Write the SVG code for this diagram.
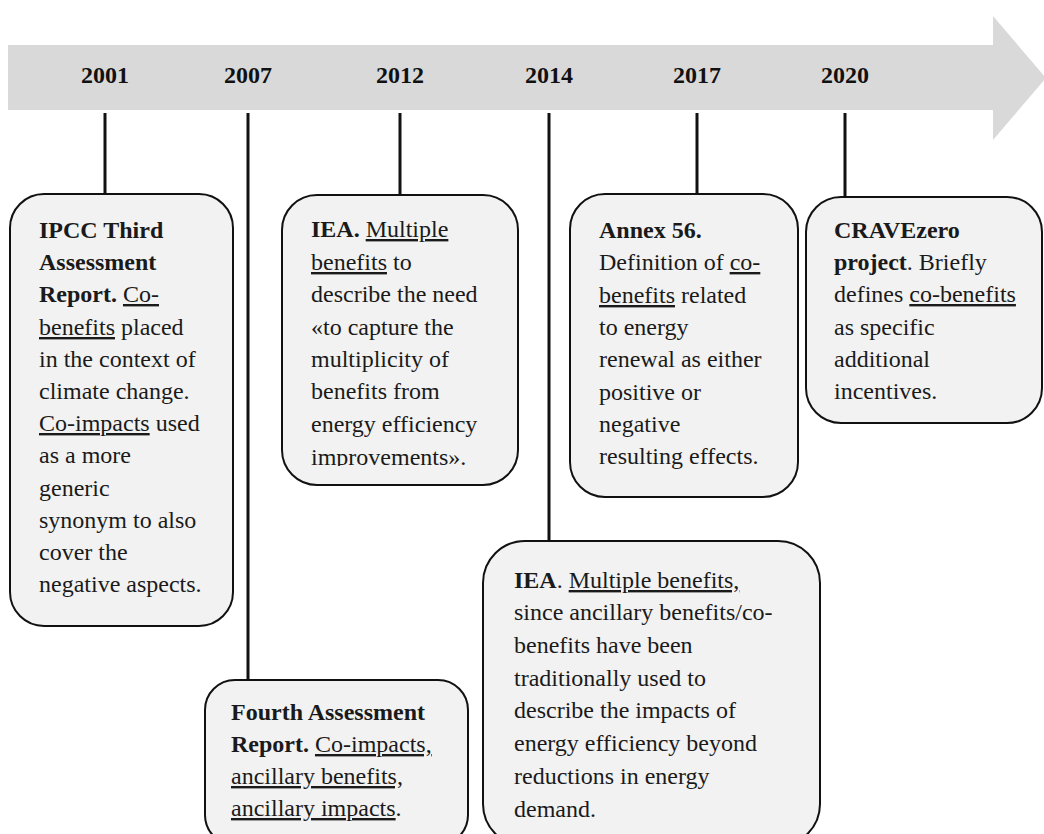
<svg xmlns="http://www.w3.org/2000/svg" width="1044" height="834" viewBox="0 0 1044 834">
  <style>
    .band { fill: #d9d9d9; }
    .year { font-family: "Liberation Serif", "Times New Roman", serif; font-weight: bold; font-size: 24px; fill: #111; text-anchor: middle; }
    .card { fill: #f2f2f2; stroke: #111; stroke-width: 2; }
    .stem { stroke: #111; stroke-width: 3; fill: none; }
    .txt { font-family: "Liberation Serif", "Times New Roman", serif; font-size: 24px; fill: #1a1a1a; }
    .b { font-weight: bold; }
    .u { text-decoration: underline; }
  </style>
  <defs>
    <clipPath id="clip-2012">
      <rect x="282" y="195" width="236" height="271"/>
    </clipPath>
  </defs>

  <!-- timeline arrow -->
  <g id="timeline">
    <polygon class="band" points="8,45 993,45 993,16 1046,78 993,140 993,110 8,110"/>
    <text class="year" x="105" y="83">2001</text>
    <text class="year" x="248" y="83">2007</text>
    <text class="year" x="400" y="83">2012</text>
    <text class="year" x="549" y="83">2014</text>
    <text class="year" x="697" y="83">2017</text>
    <text class="year" x="845" y="83">2020</text>
  </g>

  <!-- stems linking years to their cards -->
  <g id="connectors">
    <line class="stem" x1="105" y1="113" x2="105" y2="194"/>
    <line class="stem" x1="248" y1="113" x2="248" y2="680"/>
    <line class="stem" x1="400" y1="113" x2="400" y2="195"/>
    <line class="stem" x1="549" y1="113" x2="549" y2="541"/>
    <line class="stem" x1="697" y1="113" x2="697" y2="194"/>
    <line class="stem" x1="845" y1="113" x2="845" y2="197"/>
  </g>

  <g id="card-2001">
    <rect class="card" x="10" y="194" width="223" height="432" rx="34"/>
    <text class="txt">
      <tspan x="39" y="238" class="b">IPCC Third</tspan>
      <tspan x="39" y="270" class="b">Assessment</tspan>
      <tspan x="39" y="302"><tspan class="b">Report.</tspan> <tspan class="u">Co-</tspan></tspan>
      <tspan x="39" y="335"><tspan class="u">benefits</tspan> placed</tspan>
      <tspan x="39" y="367">in the context of</tspan>
      <tspan x="39" y="399">climate change.</tspan>
      <tspan x="39" y="431"><tspan class="u">Co-impacts</tspan> used</tspan>
      <tspan x="39" y="463">as a more</tspan>
      <tspan x="39" y="496">generic</tspan>
      <tspan x="39" y="528">synonym to also</tspan>
      <tspan x="39" y="560">cover the</tspan>
      <tspan x="39" y="592">negative aspects.</tspan>
    </text>
  </g>

  <g id="card-2007">
    <rect class="card" x="205" y="680" width="263" height="165" rx="30"/>
    <text class="txt">
      <tspan x="231" y="720" class="b">Fourth Assessment</tspan>
      <tspan x="231" y="752"><tspan class="b">Report.</tspan> <tspan class="u">Co-impacts,</tspan></tspan>
      <tspan x="231" y="784" class="u">ancillary benefits,</tspan>
      <tspan x="231" y="816"><tspan class="u">ancillary impacts</tspan>.</tspan>
    </text>
  </g>

  <g id="card-2012">
    <rect class="card" x="282" y="195" width="236" height="290" rx="35"/>
    <text class="txt" clip-path="url(#clip-2012)">
      <tspan x="311" y="237"><tspan class="b">IEA.</tspan> <tspan class="u">Multiple</tspan></tspan>
      <tspan x="311" y="270"><tspan class="u">benefits</tspan> to</tspan>
      <tspan x="311" y="302">describe the need</tspan>
      <tspan x="311" y="335">«to capture the</tspan>
      <tspan x="311" y="367">multiplicity of</tspan>
      <tspan x="311" y="399">benefits from</tspan>
      <tspan x="311" y="432">energy efficiency</tspan>
      <tspan x="311" y="465">improvements».</tspan>
    </text>
  </g>

  <g id="card-2014">
    <rect class="card" x="483" y="541" width="337" height="305" rx="42"/>
    <text class="txt">
      <tspan x="514" y="588"><tspan class="b">IEA</tspan>. <tspan class="u">Multiple benefits,</tspan></tspan>
      <tspan x="514" y="620">since ancillary benefits/co-</tspan>
      <tspan x="514" y="653">benefits have been</tspan>
      <tspan x="514" y="686">traditionally used to</tspan>
      <tspan x="514" y="718">describe the impacts of</tspan>
      <tspan x="514" y="751">energy efficiency beyond</tspan>
      <tspan x="514" y="784">reductions in energy</tspan>
      <tspan x="514" y="817">demand.</tspan>
    </text>
  </g>

  <g id="card-2017">
    <rect class="card" x="570" y="194" width="228" height="303" rx="35"/>
    <text class="txt">
      <tspan x="599" y="238" class="b">Annex 56.</tspan>
      <tspan x="599" y="270">Definition of <tspan class="u">co-</tspan></tspan>
      <tspan x="599" y="303"><tspan class="u">benefits</tspan> related</tspan>
      <tspan x="599" y="335">to energy</tspan>
      <tspan x="599" y="367">renewal as either</tspan>
      <tspan x="599" y="400">positive or</tspan>
      <tspan x="599" y="432">negative</tspan>
      <tspan x="599" y="464">resulting effects.</tspan>
    </text>
  </g>

  <g id="card-2020">
    <rect class="card" x="806" y="197" width="236" height="226" rx="35"/>
    <text class="txt">
      <tspan x="834" y="238" class="b">CRAVEzero</tspan>
      <tspan x="834" y="270"><tspan class="b">project</tspan>. Briefly</tspan>
      <tspan x="834" y="302">defines <tspan class="u">co-benefits</tspan></tspan>
      <tspan x="834" y="335">as specific</tspan>
      <tspan x="834" y="367">additional</tspan>
      <tspan x="834" y="399">incentives.</tspan>
    </text>
  </g>
</svg>
